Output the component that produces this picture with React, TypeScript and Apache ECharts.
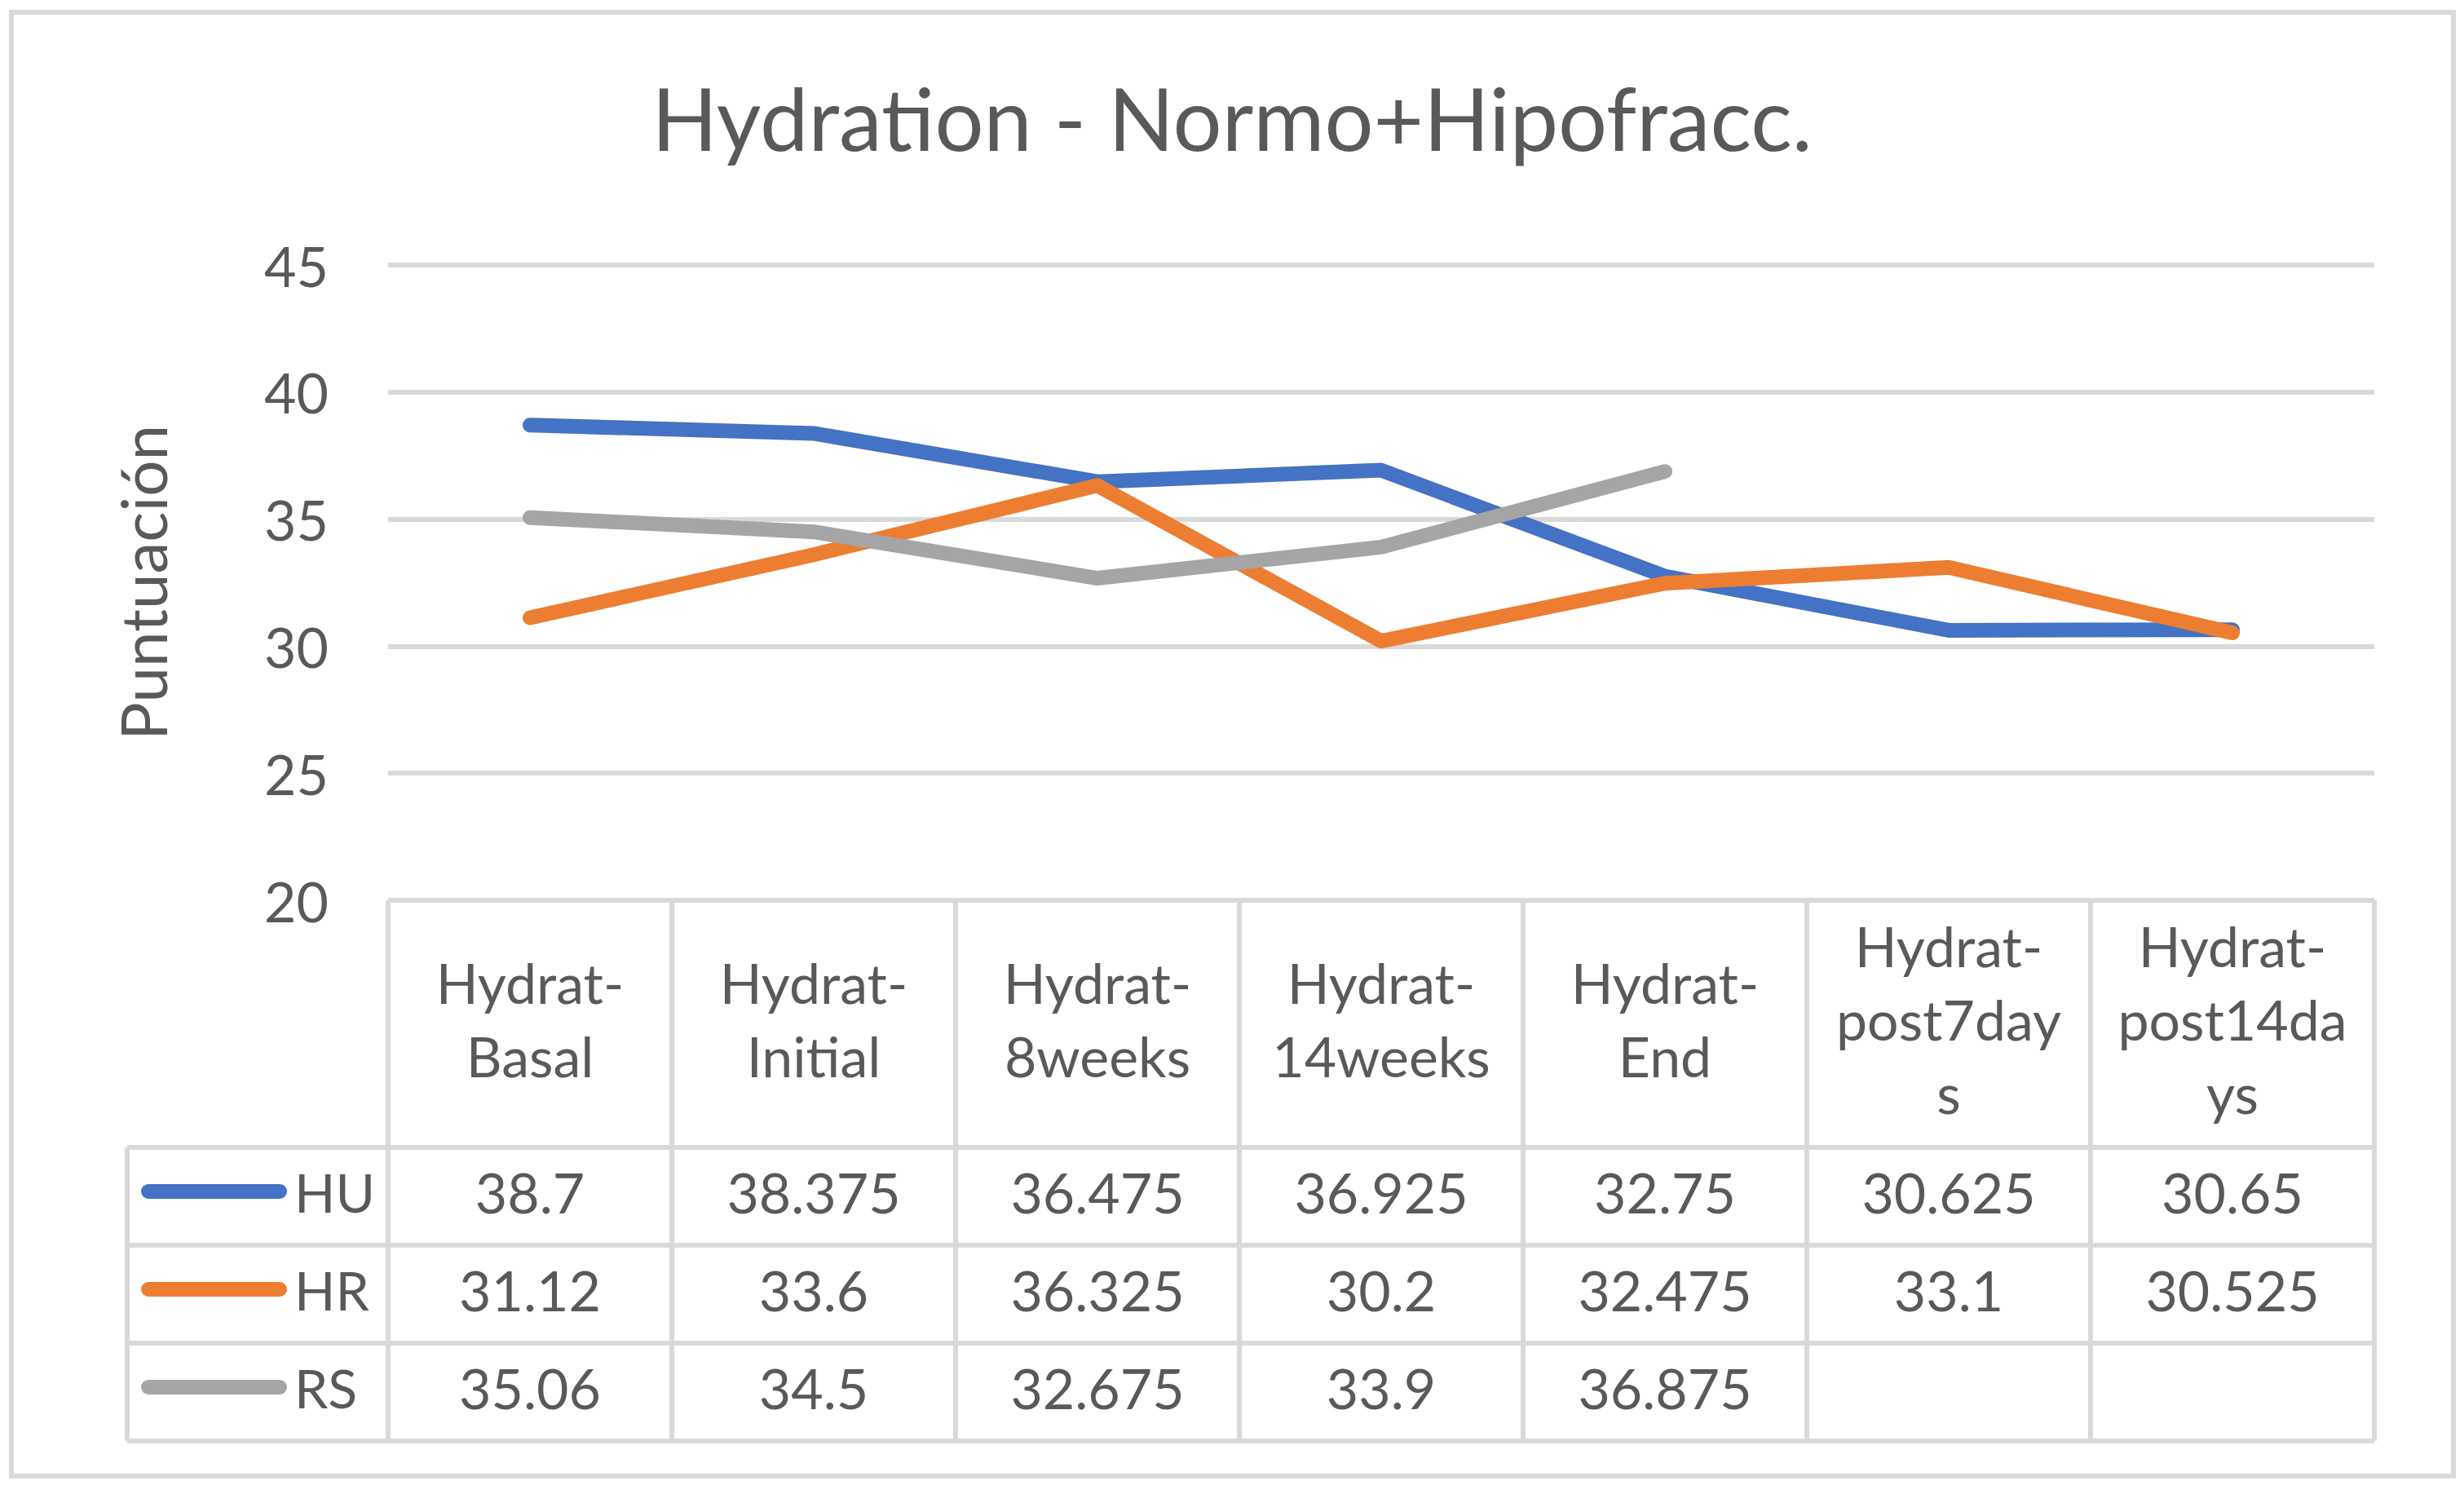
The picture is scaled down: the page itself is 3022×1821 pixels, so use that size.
import React, { useEffect, useRef } from "react";
import * as echarts from "echarts";

const TITLE = "Hydration - Normo+Hipofracc.";
const Y_NAME = "Puntuación";
const categories = [
  "Hydrat-Basal",
  "Hydrat-Initial",
  "Hydrat-8weeks",
  "Hydrat-14weeks",
  "Hydrat-End",
  "Hydrat-post7days",
  "Hydrat-post14days",
];
const seriesNames = ["HU", "HR", "RS"];
const huValues = [38.7, 38.375, 36.475, 36.925, 32.75, 30.625, 30.65];
const hrValues = [31.12, 33.6, 36.325, 30.2, 32.475, 33.1, 30.525];
const rsValues: (number | null)[] = [35.06, 34.5, 32.675, 33.9, 36.875, null, null];
const yMin = 20;
const yMax = 45;
const yStep = 5;

const COLORS = ["#4472C4", "#ED7D31", "#A5A5A5"];
const TEXT = "#595959";
const LINE = "#D9D9D9";
const FONT = "Lato";

// layout (pixels)
const W = 3022;
const H = 1821;
const G_LEFT = 476;
const G_RIGHT = 2912;
const G_TOP = 325;
const G_BOTTOM = 1104;
const HEADER_H = 303;
const ROW_H = 120;
const LEG_LEFT = 156;
const TEXT_SHIFT = 6;

function wrapCategory(s: string): string {
  const i = s.indexOf("-");
  const head = s.slice(0, i + 1);
  const rest = s.slice(i + 1);
  const parts: string[] = [head];
  for (let k = 0; k < rest.length; k += 8) parts.push(rest.slice(k, k + 8));
  return parts.join("\n");
}

export default function App() {
  const ref = useRef<HTMLDivElement>(null);
  useEffect(() => {
    if (!ref.current) return;
    const chart = echarts.init(ref.current, undefined, { renderer: "svg" });
    const rows = [huValues, hrValues, rsValues];
    const rowTop = G_BOTTOM + HEADER_H;
    const tableBottom = rowTop + ROW_H * rows.length;
    const colW = (G_RIGHT - G_LEFT) / categories.length;

    const graphics: any[] = [
      {
        type: "rect",
        shape: { x: 14, y: 15, width: 2995, height: 1795 },
        style: { fill: "none", stroke: LINE, lineWidth: 6 },
        silent: true,
      },
    ];
    for (let i = 0; i <= categories.length; i++) {
      const x = G_LEFT + colW * i;
      graphics.push({
        type: "line",
        shape: { x1: x, y1: G_BOTTOM, x2: x, y2: tableBottom },
        style: { stroke: LINE, lineWidth: 6 },
        silent: true,
      });
    }
    graphics.push({
      type: "line",
      shape: { x1: LEG_LEFT, y1: rowTop, x2: LEG_LEFT, y2: tableBottom },
      style: { stroke: LINE, lineWidth: 6 },
      silent: true,
    });
    for (let r = 0; r <= rows.length; r++) {
      const y = rowTop + ROW_H * r;
      graphics.push({
        type: "line",
        shape: { x1: LEG_LEFT, y1: y, x2: G_RIGHT, y2: y },
        style: { stroke: LINE, lineWidth: 6 },
        silent: true,
      });
    }

    const baseLabel = {
      interval: 0,
      verticalAlign: "middle",
      fontSize: 68,
      color: TEXT,
      fontFamily: FONT,
    };

    const option: any = {
      animation: false,
      backgroundColor: "#ffffff",
      title: {
        text: TITLE,
        left: "center",
        top: 86,
        textStyle: { fontSize: 106, fontWeight: "normal", color: TEXT, fontFamily: FONT },
      },
      legend: {
        orient: "vertical",
        left: 173,
        top: rowTop + ROW_H / 2 - 34 - TEXT_SHIFT,
        padding: 0,
        itemWidth: 179,
        itemHeight: 18,
        itemGap: ROW_H - 68,
        icon: "path://M9,0L170,0A9,9,0,0,1,170,18L9,18A9,9,0,0,1,9,0Z",
        itemStyle: { borderWidth: 0 },
        textStyle: { fontSize: 66, lineHeight: 68, color: TEXT, fontFamily: FONT, padding: [0, 0, 0, 4] },
        data: seriesNames,
      },
      grid: { left: G_LEFT, right: W - G_RIGHT, top: G_TOP, bottom: H - G_BOTTOM },
      xAxis: [
        {
          type: "category",
          data: categories,
          boundaryGap: true,
          axisLine: { show: false },
          axisTick: { show: false },
          splitLine: { show: false },
          axisLabel: {
            ...baseLabel,
            margin: HEADER_H / 2 - TEXT_SHIFT,
            lineHeight: 90,
            formatter: (v: string) => wrapCategory(v),
          },
        },
        ...rows.map((vals, k) => ({
          type: "category",
          data: categories,
          position: "bottom",
          boundaryGap: true,
          axisLine: { show: false },
          axisTick: { show: false },
          splitLine: { show: false },
          axisLabel: {
            ...baseLabel,
            margin: HEADER_H + ROW_H * k + ROW_H / 2 - TEXT_SHIFT,
            formatter: (_v: string, idx: number) => (vals[idx] == null ? "" : String(vals[idx])),
          },
        })),
      ],
      yAxis: {
        type: "value",
        min: yMin,
        max: yMax,
        interval: yStep,
        name: Y_NAME,
        nameLocation: "middle",
        nameGap: 262,
        nameTextStyle: { fontSize: 78, color: TEXT, fontFamily: FONT },
        axisLine: { show: false },
        axisTick: { show: false },
        axisLabel: { margin: 73, fontSize: 68, color: TEXT, fontFamily: FONT, padding: [0, 0, 8, 0] },
        splitLine: { lineStyle: { color: LINE, width: 6 } },
      },
      series: rows.map((vals, k) => ({
        name: seriesNames[k],
        type: "line",
        xAxisIndex: 0,
        data: vals,
        symbol: "none",
        connectNulls: false,
        itemStyle: { color: COLORS[k] },
        lineStyle: { color: COLORS[k], width: 18, cap: "round", join: "round" },
      })),
      graphic: graphics,
    };
    chart.setOption(option);
    return () => chart.dispose();
  }, []);
  return (
    <div
      ref={ref}
      style={{ position: "fixed", left: 0, top: 0, width: W, height: H, background: "#fff" }}
    />
  );
}
